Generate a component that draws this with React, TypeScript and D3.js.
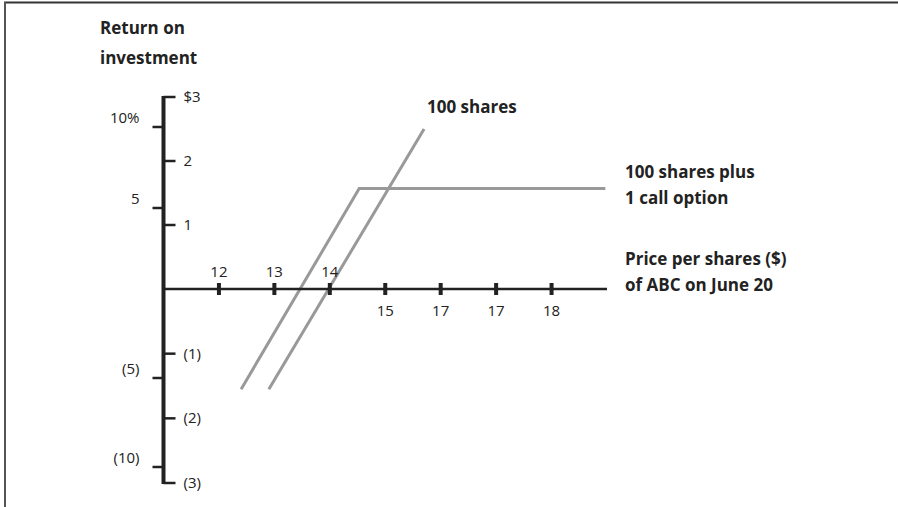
import * as d3 from 'd3'
import { useEffect, useRef } from 'react'

const W = 898
const H = 507
const font = "'Open Sans', 'DejaVu Sans', sans-serif"

// x axis: price per share, the printed labels keep the original "17, 17"
const priceTicks = [12, 13, 14, 15, 16, 17, 18]
const priceLabels = ['12', '13', '14', '15', '17', '17', '18']

// y axis, right side in dollars, left side in percent
const dollarTicks = [3, 2, 1, -1, -2, -3]
const dollarLabels = ['$3', '2', '1', '(1)', '(2)', '(3)']
const pctTicks = [10, 5, -5, -10]
const pctLabels = ['10%', '5', '(5)', '(10)']

// series (price, return in $)
const sharesPrice = [12.9, 15.7]
const sharesReturn = [-1.55, 2.5]
const optionPrice = [12.4, 14.53, 18.97]
const optionReturn = [-1.55, 1.57, 1.57]

export default function App() {
  const ref = useRef<SVGSVGElement>(null)

  useEffect(() => {
    const svg = d3.select(ref.current)
    svg.selectAll('*').remove()

    const x = d3.scaleLinear().domain([11, 19]).range([163.5, 607])
    const yD = d3.scaleLinear().domain([-3, 0, 3]).range([483, 289, 97])
    const yP = d3.scaleLinear().domain([-10, 0, 10]).range([467, 289, 127])
    const x0 = x(11)
    const y0 = yD(0)

    // frame (top + left only)
    svg.append('line').attr('x1', 4).attr('x2', W).attr('y1', 2.5).attr('y2', 2.5)
      .attr('stroke', '#333').attr('stroke-width', 2)
    svg.append('line').attr('x1', 5).attr('x2', 5).attr('y1', 2).attr('y2', H)
      .attr('stroke', '#555').attr('stroke-width', 2)

    // y title
    const title = svg.append('text').attr('x', 100).attr('font-family', font)
      .attr('font-size', 17).attr('font-weight', 700).attr('fill', '#222')
    title.append('tspan').attr('x', 100).attr('y', 34).text('Return on')
    title.append('tspan').attr('x', 100).attr('y', 64).text('investment')

    // series lines
    const line = d3.line<[number, number]>().x((d) => x(d[0])).y((d) => yD(d[1]))
    svg.append('path')
      .attr('d', line(optionPrice.map((p, i) => [p, optionReturn[i]]) as [number, number][]))
      .attr('fill', 'none').attr('stroke', '#999').attr('stroke-width', 3)
    svg.append('path')
      .attr('d', line(sharesPrice.map((p, i) => [p, sharesReturn[i]]) as [number, number][]))
      .attr('fill', 'none').attr('stroke', '#999').attr('stroke-width', 3)

    // x axis
    svg.append('line').attr('x1', x0).attr('x2', x(19)).attr('y1', y0).attr('y2', y0)
      .attr('stroke', '#222').attr('stroke-width', 2.5)
    svg.selectAll('.xtick').data(priceTicks).enter().append('rect')
      .attr('class', 'xtick')
      .attr('x', (d) => x(d) - 2).attr('y', y0 - 6).attr('width', 4).attr('height', 12)
      .attr('fill', '#222')
    svg.selectAll('.xlab').data(priceTicks).enter().append('text')
      .attr('class', 'xlab')
      .attr('x', (d) => x(d)).attr('y', (d, i) => (i < 3 ? y0 - 12 : y0 + 27))
      .attr('text-anchor', 'middle').attr('font-family', font).attr('font-size', 15)
      .attr('fill', '#222')
      .text((d, i) => priceLabels[i])

    // y axis
    svg.append('line').attr('x1', x0).attr('x2', x0).attr('y1', yD(3) - 1).attr('y2', yD(-3) + 1)
      .attr('stroke', '#222').attr('stroke-width', 4)
    svg.selectAll('.dtick').data(dollarTicks).enter().append('line')
      .attr('class', 'dtick')
      .attr('x1', x0).attr('x2', x0 + 12).attr('y1', (d) => yD(d)).attr('y2', (d) => yD(d))
      .attr('stroke', '#222').attr('stroke-width', 2.5)
    svg.selectAll('.dlab').data(dollarTicks).enter().append('text')
      .attr('class', 'dlab')
      .attr('x', x0 + 20).attr('y', (d) => yD(d) + 5)
      .attr('font-family', font).attr('font-size', 15).attr('fill', '#222')
      .text((d, i) => dollarLabels[i])
    svg.selectAll('.ptick').data(pctTicks).enter().append('line')
      .attr('class', 'ptick')
      .attr('x1', x0 - 11).attr('x2', x0).attr('y1', (d) => yP(d)).attr('y2', (d) => yP(d))
      .attr('stroke', '#222').attr('stroke-width', 2.5)
    svg.selectAll('.plab').data(pctTicks).enter().append('text')
      .attr('class', 'plab')
      .attr('x', x0 - 24).attr('y', (d) => yP(d) - 4)
      .attr('text-anchor', 'end')
      .attr('font-family', font).attr('font-size', 15).attr('fill', '#222')
      .text((d, i) => pctLabels[i])

    // labels
    const bold = (lines: string[], lx: number, ly: number) => {
      const t = svg.append('text').attr('font-family', font).attr('font-size', 17)
        .attr('font-weight', 700).attr('fill', '#222')
      lines.forEach((s, i) => t.append('tspan').attr('x', lx).attr('y', ly + i * 26).text(s))
    }
    bold(['100 shares'], 427, 113)
    bold(['100 shares plus', '1 call option'], 625, 178)
    bold(['Price per shares ($)', 'of ABC on June 20'], 625, 265)
  }, [])

  return (
    <svg ref={ref} width={W} height={H}
      style={{ position: 'absolute', left: 0, top: 0, background: '#fff' }} />
  )
}
